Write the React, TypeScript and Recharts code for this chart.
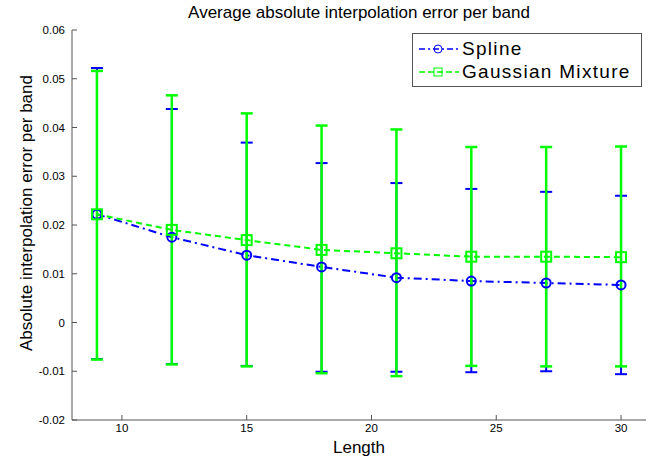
// Average absolute interpolation error per band — Spline vs Gaussian Mixture
// LineChart with asymmetric error bars, MATLAB-style boxed axes.

import {
  LineChart, Line, XAxis, YAxis, ErrorBar, Legend,
} from 'recharts';

const lengths = [9, 12, 15, 18, 21, 24, 27, 30];

const splineMean = [0.0222, 0.0175, 0.0138, 0.0114, 0.0092, 0.0085, 0.0081, 0.0077];
const splineUpper = [0.0522, 0.0438, 0.0369, 0.0327, 0.0286, 0.0274, 0.0268, 0.0260];
const splineLower = [-0.0075, -0.0085, -0.0089, -0.0101, -0.0101, -0.0102, -0.0100, -0.0106];

const gmmMean = [0.0222, 0.0190, 0.0169, 0.0149, 0.0142, 0.0135, 0.0135, 0.0134];
const gmmUpper = [0.0516, 0.0466, 0.0429, 0.0404, 0.0396, 0.0360, 0.0360, 0.0361];
const gmmLower = [-0.0076, -0.0086, -0.0090, -0.0104, -0.0110, -0.0089, -0.0090, -0.0090];

const xTicks = [10, 15, 20, 25, 30];
const yTicks = [-0.02, -0.01, 0, 0.01, 0.02, 0.03, 0.04, 0.05, 0.06];

const data = lengths.map((x, i) => ({
  x,
  spline: splineMean[i],
  splineErr: [splineMean[i] - splineLower[i], splineUpper[i] - splineMean[i]],
  gmm: gmmMean[i],
  gmmErr: [gmmMean[i] - gmmLower[i], gmmUpper[i] - gmmMean[i]],
}));

const FONT = '"Liberation Sans", Arial, sans-serif';
const BLUE = '#0000ff';
const GREEN = '#00ff00';
const AXIS = '#555555';

const fmtY = (v: number) => (v === 0 ? '0' : v.toFixed(2));

function CircleDot(props: any) {
  const { cx, cy, index } = props;
  return <circle key={`c${index}`} cx={cx} cy={cy} r={4.5} fill="none" stroke={BLUE} strokeWidth={2} />;
}

function SquareDot(props: any) {
  const { cx, cy, index } = props;
  return <rect key={`s${index}`} x={cx - 5} y={cy - 5} width={10} height={10} fill="none" stroke={GREEN} strokeWidth={2} />;
}

function BoxLegend() {
  const row = { display: 'flex', alignItems: 'center', height: 23 };
  return (
    <div style={{
      width: 228, height: 48, padding: '3px 0 1px 0', border: '1px solid #555', background: '#fff',
      fontFamily: FONT, fontSize: 19, letterSpacing: 1.3, color: '#000', boxSizing: 'content-box',
    }}>
      <div style={row}>
        <svg width={44} height={12} style={{ marginLeft: 5 }}>
          <line x1={1} y1={6} x2={41} y2={6} stroke={BLUE} strokeWidth={1.5} strokeDasharray="6 3 2 3" />
          <circle cx={20} cy={6} r={4} fill="none" stroke={BLUE} strokeWidth={1} />
        </svg>
        <span>Spline</span>
      </div>
      <div style={row}>
        <svg width={44} height={12} style={{ marginLeft: 5 }}>
          <line x1={1} y1={6} x2={41} y2={6} stroke={GREEN} strokeWidth={1.5} strokeDasharray="6 3" />
          <rect x={16} y={2} width={8} height={8} fill="none" stroke={GREEN} strokeWidth={1} />
        </svg>
        <span>Gaussian Mixture</span>
      </div>
    </div>
  );
}

export default function App() {
  return (
    <div style={{ position: 'absolute', left: 0, top: 0, width: 656, height: 460, background: '#fff', fontFamily: FONT }}>
      <div style={{
        position: 'absolute', left: 72, width: 574, top: 3, textAlign: 'center',
        fontSize: 17, color: '#000',
      }}>
        Average absolute interpolation error per band
      </div>
      <LineChart width={656} height={460} data={data} margin={{ top: 30, right: 10, bottom: 0, left: 0 }}>
        <XAxis
          xAxisId="bottom"
          dataKey="x"
          type="number"
          domain={[8, 31]}
          ticks={xTicks}
          allowDataOverflow
          height={40}
          stroke={AXIS}
          tickSize={-5}
          tickMargin={9}
          tick={{ fontSize: 11.5, fill: '#000', fontFamily: FONT }}
          label={{ value: 'Length', position: 'insideBottom', offset: 7, fontSize: 17, fill: '#000', fontFamily: FONT }}
        />
        <XAxis
          xAxisId="top"
          orientation="top"
          dataKey="x"
          type="number"
          domain={[8, 31]}
          ticks={xTicks}
          allowDataOverflow
          height={0}
          stroke={AXIS}
          tickSize={-5}
          tickFormatter={() => ''}
        />
        <YAxis
          yAxisId="left"
          type="number"
          domain={[-0.02, 0.06]}
          ticks={yTicks}
          allowDataOverflow
          width={72}
          stroke={AXIS}
          tickSize={-5}
          tickMargin={12}
          tickFormatter={fmtY}
          tick={{ fontSize: 11.5, fill: '#000', fontFamily: FONT }}
          label={{
            value: 'Absolute interpolation error per band', angle: -90, position: 'insideLeft',
            offset: 0, dx: 26, dy: -12, fontSize: 17, fill: '#000', fontFamily: FONT, style: { textAnchor: 'middle' },
          }}
        />
        <YAxis
          yAxisId="right"
          orientation="right"
          type="number"
          domain={[-0.02, 0.06]}
          ticks={yTicks}
          allowDataOverflow
          width={0}
          stroke={AXIS}
          tickSize={-5}
          tickFormatter={() => ''}
        />
        <Legend
          layout="vertical"
          align="center"
          verticalAlign="middle"
          content={<BoxLegend />}
          wrapperStyle={{ left: 412, top: 33, width: 230 }}
        />
        <Line
          xAxisId="bottom"
          yAxisId="left"
          type="linear"
          dataKey="spline"
          stroke={BLUE}
          strokeWidth={2}
          strokeDasharray="8 4 2 4"
          dot={<CircleDot />}
          activeDot={false}
          isAnimationActive={false}
        >
          <ErrorBar dataKey="splineErr" direction="y" width={6} stroke={BLUE} strokeWidth={2} />
        </Line>
        <Line
          xAxisId="bottom"
          yAxisId="left"
          type="linear"
          dataKey="gmm"
          stroke={GREEN}
          strokeWidth={2}
          strokeDasharray="6 4"
          dot={<SquareDot />}
          activeDot={false}
          isAnimationActive={false}
        >
          <ErrorBar dataKey="gmmErr" direction="y" width={6} stroke={GREEN} strokeWidth={2.5} />
        </Line>
      </LineChart>
    </div>
  );
}
